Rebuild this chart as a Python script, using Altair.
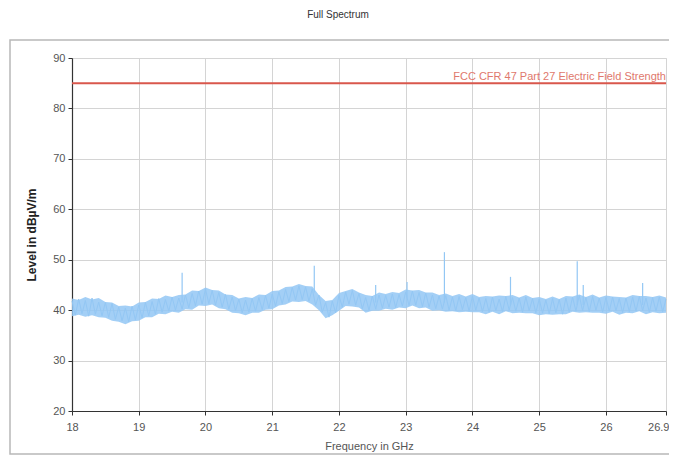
import altair as alt
import pandas as pd

# Sweep trace: frequency grid (GHz) and level (dBµV/m)
freq_start = 18.0
freq_step = 0.05
level = [
    41.8, 39.0, 42.2, 39.3, 41.9, 38.8, 42.4, 39.2, 41.6, 38.9,
    41.5, 38.6, 41.3, 38.2, 40.6, 37.9, 40.4, 37.7, 40.8, 38.1,
    41.0, 38.5, 41.5, 38.9, 41.7, 39.2, 42.3, 39.6, 42.1, 39.8,
    42.6, 40.0, 42.4, 40.2, 43.0, 40.5, 43.3, 40.9, 43.8, 41.2,
    44.2, 41.3, 43.9, 41.0, 43.5, 40.6, 43.1, 40.2, 42.6, 39.9,
    42.2, 39.5, 42.0, 39.6, 42.3, 39.8, 42.5, 40.1, 42.9, 40.4,
    43.2, 40.8, 43.6, 41.3, 44.1, 41.7, 44.5, 42.0, 44.8, 42.1,
    44.6, 41.8, 44.2, 41.0, 43.0, 39.6, 41.5, 38.6, 41.8, 39.5,
    42.9, 40.6, 43.6, 41.2, 43.9, 41.0, 43.3, 40.3, 42.5, 40.0,
    42.8, 40.2, 43.0, 40.4, 42.9, 40.6, 43.2, 40.5, 43.1, 40.8,
    43.6, 40.9, 43.8, 41.0, 43.5, 40.7, 43.4, 40.6, 43.0, 40.3,
    42.8, 40.2, 42.9, 40.0, 42.6, 39.9, 42.7, 40.1, 42.5, 39.8,
    42.8, 40.0, 42.4, 39.7, 42.3, 39.6, 42.6, 39.9, 42.2, 39.7,
    42.7, 40.0, 42.5, 39.8, 42.4, 39.6, 42.6, 39.9, 42.3, 39.5,
    42.2, 39.4, 42.0, 39.3, 42.3, 39.5, 42.1, 39.2, 42.4, 39.6,
    42.6, 39.8, 42.9, 39.9, 42.5, 39.7, 42.7, 40.0, 42.4, 39.6,
    42.5, 39.8, 42.6, 39.9, 42.3, 39.5, 42.4, 39.7, 42.6, 39.8,
    42.7, 39.9, 42.4, 39.6, 42.5, 39.8, 42.6, 39.7, 42.2,
]
freq = [round(freq_start + i * freq_step, 3) for i in range(len(level))]

# Envelope of the noise band at 0.1 GHz steps
band_step = 0.1
band_hi = [
    42.3, 42.0, 42.6, 42.1, 42.4, 41.6, 41.5, 40.8, 40.9, 40.7,
    41.5, 41.6, 42.3, 42.2, 42.9, 42.6, 43.0, 43.1, 43.9, 43.8,
    44.5, 44.0, 43.9, 43.1, 43.0, 42.3, 42.6, 42.4, 43.1, 43.0,
    43.8, 43.9, 44.6, 44.7, 45.2, 44.8, 44.7, 43.0, 41.8, 42.0,
    43.4, 43.8, 44.2, 43.5, 43.0, 42.8, 43.5, 43.2, 43.6, 43.4,
    44.1, 43.9, 44.0, 43.5, 43.5, 43.0, 43.3, 42.8, 43.2, 42.7,
    43.2, 42.6, 42.8, 42.7, 42.9, 42.8, 43.0, 42.5, 43.0, 42.4,
    42.6, 42.2, 42.7, 42.2, 42.8, 42.7, 43.1, 42.6, 43.1, 42.5,
    42.9, 42.7, 42.6, 42.5, 43.0, 42.8, 42.8, 42.6, 42.9, 42.5,
]
band_lo = [
    38.8, 39.1, 38.7, 39.0, 38.6, 38.5, 37.9, 37.7, 37.2, 37.8,
    37.9, 38.6, 38.6, 39.3, 39.2, 39.7, 39.5, 40.2, 40.1, 40.9,
    40.8, 41.1, 40.4, 40.2, 39.5, 39.4, 39.0, 39.5, 39.5, 40.1,
    40.2, 40.9, 41.1, 41.7, 41.6, 41.8, 41.1, 40.0, 38.4, 39.0,
    39.9, 40.8, 40.7, 40.5, 39.5, 39.9, 39.9, 40.3, 40.1, 40.5,
    40.4, 40.9, 40.4, 40.5, 39.9, 40.0, 39.7, 39.8, 39.6, 39.7,
    39.6, 39.6, 39.2, 39.7, 39.2, 39.8, 39.4, 39.5, 39.4, 39.4,
    39.0, 39.2, 39.1, 39.2, 39.2, 39.7, 39.5, 39.6, 39.5, 39.5,
    39.3, 39.7, 39.1, 39.5, 39.4, 39.8, 39.2, 39.6, 39.4, 39.5,
]
band_f = [round(freq_start + i * band_step, 3) for i in range(len(band_hi))]

# Narrow spikes above the noise floor
spike_freq = [19.65, 21.63, 22.55, 23.02, 23.58, 24.57, 25.57, 25.66, 26.55]
spike_base = [41.5, 43.5, 41.5, 42.5, 41.5, 41.0, 41.0, 41.0, 41.0]
spike_peak = [47.4, 48.8, 45.0, 45.6, 51.5, 46.6, 49.7, 45.0, 45.4]

# Limit line
limit_name = "FCC CFR 47 Part 27 Electric Field Strength"
limit_level = 85.0

chart_title = "Full Spectrum"
x_ticks = [18, 18.5, 19, 19.5, 20, 20.5, 21, 21.5, 22, 22.5, 23, 23.5,
           24, 24.5, 25, 25.5, 26, 26.5, 26.9]
y_ticks = [20, 25, 30, 35, 40, 45, 50, 55, 60, 65, 70, 75, 80, 85, 90]

trace = pd.DataFrame({"f": freq, "lvl": level})
band = pd.DataFrame({"f": band_f, "lo": band_lo, "hi": band_hi})
spikes = pd.DataFrame({"f": spike_freq, "b": spike_base, "p": spike_peak})
limit = pd.DataFrame({"f": [18.0, 26.9], "lvl": [limit_level, limit_level]})
label = pd.DataFrame({"f": [26.9], "lvl": [limit_level], "t": [limit_name]})

FONT = "Liberation Sans"
BLUE = "#93c7f4"
xscale = alt.Scale(domain=[18, 26.9], nice=False, zero=False)
yscale = alt.Scale(domain=[20, 90], nice=False, zero=False)

xaxis = alt.Axis(
    values=x_ticks,
    labelExpr="(datum.value % 1 == 0 || datum.value > 26.8) ? format(datum.value, '~g') : ''",
    labelAlign={"condition": {"test": "datum.value > 26.8", "value": "right"}, "value": "center"},
    labelOffset={"condition": {"test": "datum.value > 26.8", "value": 3}, "value": 0},
    title="Frequency in GHz", titleFont=FONT, titleFontSize=11, titleFontWeight="normal",
    titleColor="#555", titlePadding=8,
    labelFont=FONT, labelFontSize=11, labelColor="#555", labelPadding=6,
    tickColor="#333", tickSize=4, domainColor="#333", domainWidth=1.2,
    gridColor="#d4d4d4", labelFlush=False,
)
yaxis = alt.Axis(
    values=y_ticks,
    labelExpr="datum.value % 10 == 0 ? format(datum.value, 'd') : ''",
    title="Level in dBµV/m", titleFont=FONT, titleFontSize=12, titleFontWeight="bold",
    titleColor="#222", titlePadding=14,
    labelFont=FONT, labelFontSize=11, labelColor="#555", labelPadding=3,
    tickColor="#333", tickSize=4, domainColor="#333", domainWidth=1.2,
    gridColor="#d4d4d4",
)

base = alt.Chart(pd.DataFrame({"a": [0]}))

frame = base.mark_rect(
    fill="white", fillOpacity=0, stroke="#b8b8b8", strokeWidth=1.5
).encode(x=alt.value(-62), x2=alt.value(640), y=alt.value(-18), y2=alt.value(396))

title = base.mark_text(
    font=FONT, fontSize=10, color="#333", align="center", baseline="middle"
).encode(x=alt.value(266), y=alt.value(-43), text=alt.value(chart_title))

area = alt.Chart(band).mark_area(color=BLUE, opacity=0.85).encode(
    x=alt.X("f:Q", scale=xscale, axis=xaxis),
    y=alt.Y("lo:Q", scale=yscale, axis=yaxis),
    y2="hi:Q",
)

line = alt.Chart(trace).mark_line(color=BLUE, strokeWidth=1).encode(
    x="f:Q", y="lvl:Q"
)

spk = alt.Chart(spikes).mark_rule(color=BLUE, strokeWidth=1.2).encode(
    x="f:Q", y="b:Q", y2="p:Q"
)

lim = alt.Chart(limit).mark_line(color="#d9574c", strokeWidth=2).encode(
    x="f:Q", y="lvl:Q"
)

lbl = alt.Chart(label).mark_text(
    align="right", baseline="bottom", dy=-1, color="#e0786c", font=FONT, fontSize=11
).encode(x="f:Q", y="lvl:Q", text="t:N")

chart = alt.layer(frame, title, area, line, spk, lim, lbl).properties(
    width=594,
    height=353,
    autosize=alt.AutoSizeParams(type="none"),
    padding={"left": 64, "top": 50, "right": 3, "bottom": 45},
).configure_view(stroke="#d4d4d4").configure(background="white")

chart.save("out.html", embed_options={"renderer": "svg", "actions": False})
